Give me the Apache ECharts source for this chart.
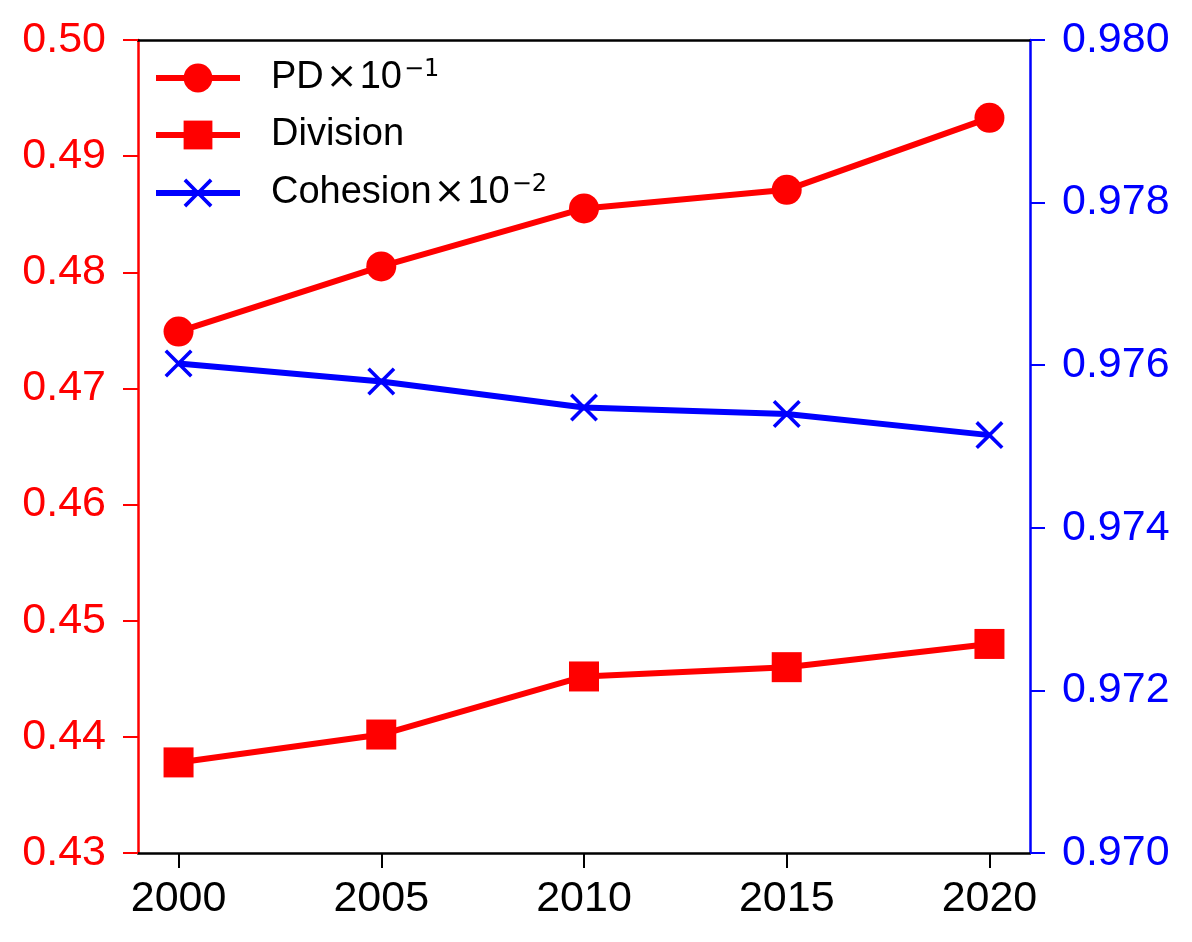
<!DOCTYPE html>
<html>
<head>
<meta charset="utf-8">
<script src="https://cdn.jsdelivr.net/npm/echarts@6/dist/echarts.min.js"></script>
<style>
  html, body { margin: 0; padding: 0; background: #fff; }
  #chart { width: 1192px; height: 942px; }
</style>
</head>
<body>
<div id="chart"></div>
<script>
// data
var years = [2000, 2005, 2010, 2015, 2020];
var pdValues = [0.4749, 0.4805, 0.4855, 0.4871, 0.4933];
var divisionValues = [0.4378, 0.4402, 0.4452, 0.4460, 0.4480];
var cohesionValues = [0.97602, 0.97580, 0.97548, 0.97540, 0.97514];
var leftTicks = [0.43, 0.44, 0.45, 0.46, 0.47, 0.48, 0.49, 0.50];
var rightTicks = [0.970, 0.972, 0.974, 0.976, 0.978, 0.980];

var RED = '#ff0000';
var BLUE = '#0000ff';
var FONT = '"Liberation Sans", Arial, sans-serif';
var MATH_FONT = '"DejaVu Sans", sans-serif';

// "x" marker, a bit heavier than the default look
var crossPath = 'path://M0,9 L9,0 L50,41 L91,0 L100,9 L59,50 L100,91 L91,100 L50,59 L9,100 L0,91 L41,50 Z';

function pairs(xs, ys) {
    return xs.map(function (x, i) { return [x, ys[i]]; });
}

var myChart = echarts.init(document.getElementById('chart'));

var option = {
    backgroundColor: '#fff',
    animation: false,
    textStyle: { fontFamily: FONT },
    grid: { left: 138, right: 162, top: 40, bottom: 89 },
    legend: {
        orient: 'vertical',
        left: 148,
        top: 53,
        itemWidth: 84,
        itemHeight: 36,
        itemGap: 19,
        data: ['PD', 'Division', 'Cohesion'],
        lineStyle: { width: 6 },
        formatter: function (name) {
            if (name === 'PD') return '{m|PD}{x|×}{m|10}{s|−1}';
            if (name === 'Cohesion') return '{m|Cohesion}{x|×}{m|10}{s|−2}';
            return '{m|' + name + '}';
        },
        textStyle: {
            color: '#000',
            fontSize: 38,
            fontFamily: FONT,
            padding: [0, 0, 0, 26],
            rich: {
                m: { fontSize: 38, lineHeight: 40, fontFamily: FONT, color: '#000' },
                x: { fontSize: 38, lineHeight: 40, fontFamily: MATH_FONT, color: '#000', padding: [0, 2, 0, 2] },
                s: { fontSize: 24, lineHeight: 22, fontFamily: MATH_FONT, color: '#000', verticalAlign: 'top', padding: [0, 0, 0, 2] }
            }
        }
    },
    xAxis: [
        {
            type: 'value',
            min: 1999,
            max: 2021,
            position: 'bottom',
            splitLine: { show: false },
            axisLine: { show: true, onZero: false, lineStyle: { color: '#000', width: 2.5 } },
            axisTick: { show: true, length: 15, customValues: years, lineStyle: { color: '#000', width: 2 } },
            axisLabel: {
                customValues: years,
                color: '#000', fontSize: 43, fontFamily: FONT, margin: 25,
                formatter: function (v) { return String(v); }
            }
        },
        {
            type: 'value',
            min: 1999,
            max: 2021,
            position: 'top',
            splitLine: { show: false },
            axisLine: { show: true, onZero: false, lineStyle: { color: '#000', width: 2.5 } },
            axisTick: { show: false },
            axisLabel: { show: false }
        }
    ],
    yAxis: [
        {
            type: 'value',
            position: 'left',
            min: leftTicks[0],
            max: leftTicks[leftTicks.length - 1],
            interval: 0.01,
            splitLine: { show: false },
            axisLine: { show: true, lineStyle: { color: RED, width: 2.5 } },
            axisTick: { show: true, length: 15, lineStyle: { color: RED, width: 2 } },
            axisLabel: {
                color: RED, fontSize: 43, fontFamily: FONT, margin: 32,
                formatter: function (v) { return v.toFixed(2); }
            }
        },
        {
            type: 'value',
            position: 'right',
            min: rightTicks[0],
            max: rightTicks[rightTicks.length - 1],
            interval: 0.002,
            splitLine: { show: false },
            axisLine: { show: true, lineStyle: { color: BLUE, width: 2.5 } },
            axisTick: { show: true, length: 15, lineStyle: { color: BLUE, width: 2 } },
            axisLabel: {
                color: BLUE, fontSize: 43, fontFamily: FONT, margin: 32,
                formatter: function (v) { return v.toFixed(3); }
            }
        }
    ],
    series: [
        {
            name: 'PD',
            type: 'line',
            yAxisIndex: 0,
            data: pairs(years, pdValues),
            symbol: 'circle',
            symbolSize: 30,
            itemStyle: { color: RED },
            lineStyle: { color: RED, width: 6 }
        },
        {
            name: 'Division',
            type: 'line',
            yAxisIndex: 0,
            data: pairs(years, divisionValues),
            symbol: 'rect',
            symbolSize: 30,
            itemStyle: { color: RED },
            lineStyle: { color: RED, width: 6 }
        },
        {
            name: 'Cohesion',
            type: 'line',
            yAxisIndex: 1,
            data: pairs(years, cohesionValues),
            symbol: crossPath,
            symbolSize: 28,
            itemStyle: { color: BLUE },
            lineStyle: { color: BLUE, width: 6 }
        }
    ]
};

myChart.setOption(option);
</script>
</body>
</html>
